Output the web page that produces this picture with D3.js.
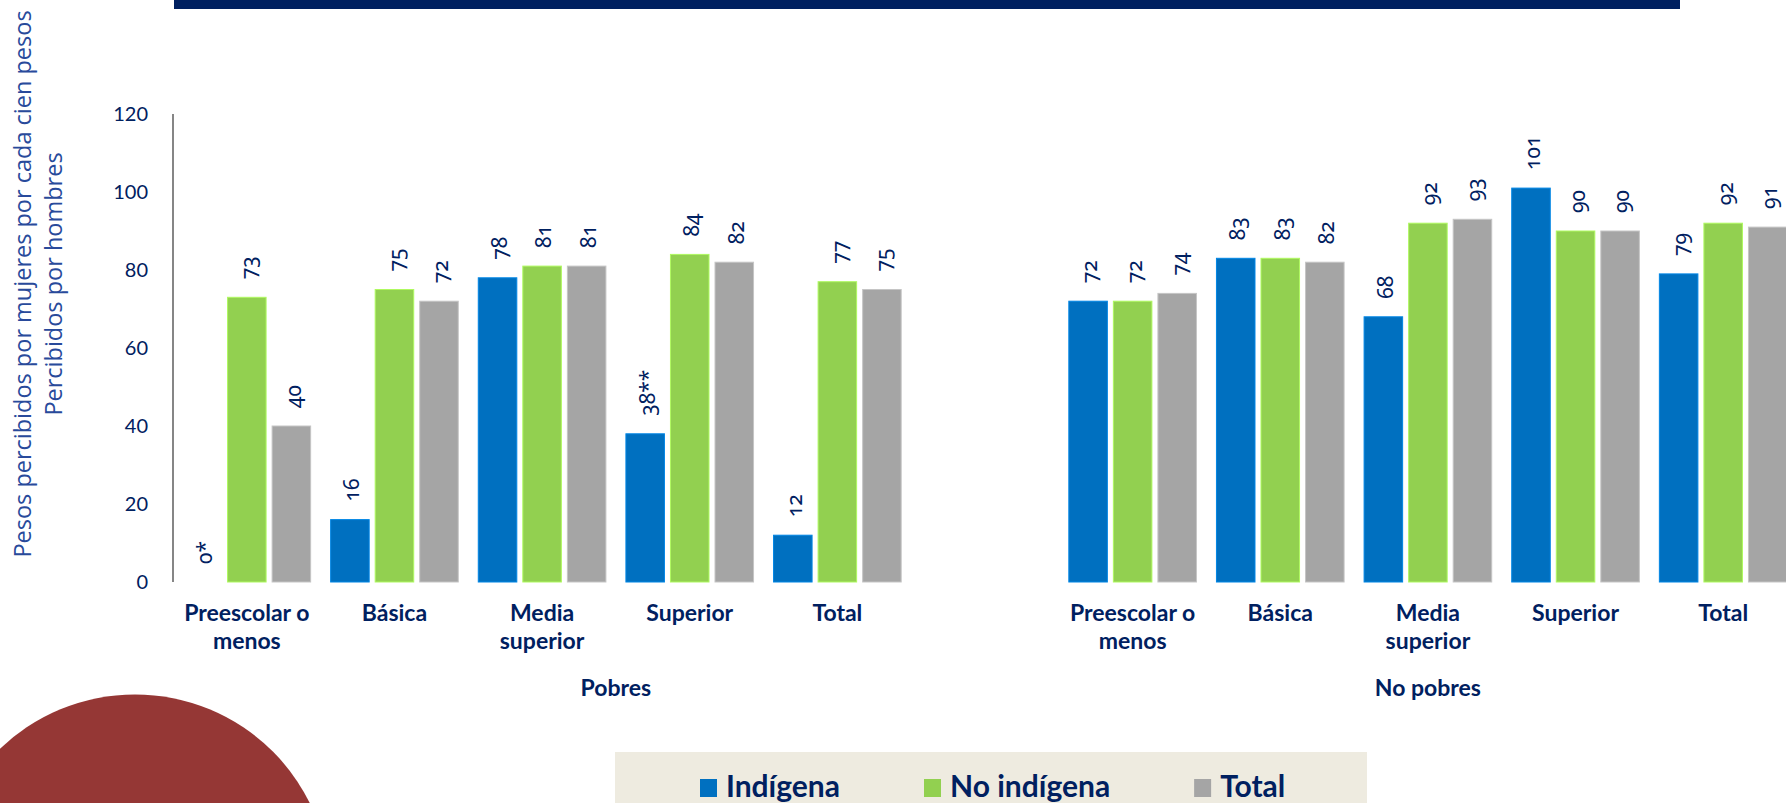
<!DOCTYPE html>
<html>
<head>
<meta charset="utf-8">
<script src="https://cdn.jsdelivr.net/npm/d3@7"></script>
<style>
  html, body { margin: 0; padding: 0; background: #fff; overflow: hidden; }
  svg { display: block; }
</style>
</head>
<body>
<div id="chart"></div>
<script>
// datos
const grupos = ["Pobres", "No pobres"];
const categorias = ["Preescolar o menos", "Básica", "Media superior", "Superior", "Total"];
const categoriaLineas = [["Preescolar o", "menos"], ["Básica"], ["Media", "superior"], ["Superior"], ["Total"]];
const series = ["Indígena", "No indígena", "Total"];
const colores = ["#0070C0", "#92D050", "#A5A5A5"];

const pobresIndigena = [0, 16, 78, 38, 12];
const pobresNoIndigena = [73, 75, 81, 84, 77];
const pobresTotal = [40, 72, 81, 82, 75];
const noPobresIndigena = [72, 83, 68, 101, 79];
const noPobresNoIndigena = [72, 83, 92, 90, 92];
const noPobresTotal = [74, 82, 93, 90, 91];

const etiquetasPobresIndigena = ["0*", "16", "78", "38**", "12"];
const yTicks = [0, 20, 40, 60, 80, 100, 120];

const valores = {
  "Pobres": [pobresIndigena, pobresNoIndigena, pobresTotal],
  "No pobres": [noPobresIndigena, noPobresNoIndigena, noPobresTotal]
};

const width = 1786, height = 803;
const navy = "#002060";

const svg = d3.select("#chart").append("svg")
    .attr("width", width)
    .attr("height", height);

// decoraciones
svg.append("rect").attr("x", 174).attr("y", 0).attr("width", 1506).attr("height", 9).attr("fill", navy);
svg.append("circle").attr("cx", 135).attr("cy", 889.5).attr("r", 195).attr("fill", "#953735");

// ranuras: 5 categorías, hueco, 5 categorías
const slots = [];
categorias.forEach((c, i) => slots.push("Pobres|" + i));
slots.push("hueco");
categorias.forEach((c, i) => slots.push("No pobres|" + i));

const x0 = d3.scaleBand().domain(slots).range([173, 1797]).padding(0);
const x1 = d3.scaleBand().domain(series).range([10, x0.bandwidth() - 10]).paddingInner(0.135);
const y = d3.scaleLinear().domain([0, 120]).range([582, 114]);

// eje y
svg.append("line")
    .attr("x1", 173).attr("x2", 173)
    .attr("y1", y(120)).attr("y2", y(0))
    .attr("stroke", "#868686").attr("stroke-width", 2);

svg.append("g").selectAll("text")
  .data(yTicks)
  .join("text")
    .attr("x", 148)
    .attr("y", d => y(d))
    .attr("dy", "0.35em")
    .attr("text-anchor", "end")
    .attr("font-family", "Lato, sans-serif")
    .attr("font-size", 20)
    .attr("fill", navy)
    .text(d => d);

// título eje y
const yTitulo = ["Pesos percibidos por mujeres por cada cien pesos", "Percibidos por hombres"];
svg.append("g").selectAll("text")
  .data(yTitulo)
  .join("text")
    .attr("transform", (d, i) => `translate(${31 + i * 31},284) rotate(-90)`)
    .attr("text-anchor", "middle")
    .attr("font-family", "'Open Sans', sans-serif")
    .attr("font-size", 23.5)
    .attr("fill", "#284A9B")
    .text(d => d);

// barras
const barras = [];
grupos.forEach(g => {
  series.forEach((s, si) => {
    valores[g][si].forEach((v, ci) => {
      let etiqueta = String(v);
      if (g === "Pobres" && si === 0) etiqueta = etiquetasPobresIndigena[ci];
      barras.push({ slot: g + "|" + ci, serie: s, color: colores[si], valor: v, etiqueta: etiqueta });
    });
  });
});

svg.append("g").selectAll("rect")
  .data(barras.filter(d => d.valor > 0))
  .join("rect")
    .attr("x", d => x0(d.slot) + x1(d.serie))
    .attr("y", d => y(d.valor))
    .attr("width", x1.bandwidth())
    .attr("height", d => y(0) - y(d.valor))
    .attr("fill", d => d.color)
    .attr("stroke", d => d3.color(d.color).brighter(0.5))
    .attr("stroke-width", 1);

svg.append("g").selectAll("text")
  .data(barras)
  .join("text")
    .attr("transform", d => `translate(${x0(d.slot) + x1(d.serie) + x1.bandwidth() / 2 + 2},${y(d.valor) - 18}) rotate(-90)`)
    .attr("dy", "0.35em")
    .attr("text-anchor", "start")
    .attr("font-family", "'Noto Sans', sans-serif")
    .attr("font-size", 21)
    .style("font-variant-numeric", "oldstyle-nums")
    .attr("fill", navy)
    .text(d => d.etiqueta);

// etiquetas de categoría
const catG = svg.append("g")
    .attr("font-family", "Lato, sans-serif")
    .attr("font-weight", "bold")
    .attr("font-size", 23)
    .attr("fill", navy)
    .attr("text-anchor", "middle");

grupos.forEach(g => {
  categoriaLineas.forEach((lineas, ci) => {
    const cx = x0(g + "|" + ci) + x0.bandwidth() / 2;
    lineas.forEach((l, li) => {
      catG.append("text").attr("x", cx).attr("y", 621 + li * 27.5).text(l);
    });
  });
});

// etiquetas de grupo (Pobres incluye el hueco)
const pobresCentro = (x0("Pobres|0") + x0("hueco") + x0.bandwidth()) / 2;
const noPobresCentro = (x0("No pobres|0") + x0("No pobres|4") + x0.bandwidth()) / 2;
catG.append("text").attr("x", pobresCentro).attr("y", 696).text(grupos[0]);
catG.append("text").attr("x", noPobresCentro).attr("y", 696).text(grupos[1]);

// leyenda
svg.append("rect").attr("x", 615).attr("y", 752).attr("width", 752).attr("height", 60).attr("fill", "#EEEBE0");
const leg = svg.append("g");
let lx = 700;
series.forEach((s, i) => {
  leg.append("rect").attr("x", lx).attr("y", 779).attr("width", 17).attr("height", 18).attr("fill", colores[i]);
  const t = leg.append("text")
      .attr("x", lx + 26).attr("y", 797)
      .attr("font-family", "Lato, sans-serif")
      .attr("font-weight", "bold")
      .attr("font-size", 30)
      .attr("fill", navy)
      .text(s);
  lx += 26 + t.node().getComputedTextLength() + 84;
});
</script>
</body>
</html>
